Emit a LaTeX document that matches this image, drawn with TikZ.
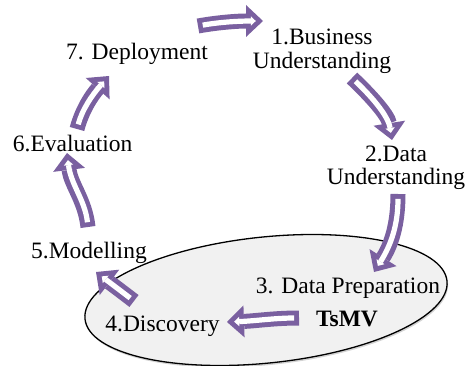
\documentclass[tikz,border=0pt]{standalone}
\usepackage{fontspec}
\setmainfont{Liberation Serif}
\usetikzlibrary{arrows.meta,shapes.geometric,shadows}
\definecolor{arrowpurple}{RGB}{122,96,160}
\definecolor{ellipsefill}{RGB}{241,241,241}
\tikzset{
  lbl/.style={font=\fontsize{23.5}{23.5}\selectfont, inner sep=0pt, anchor=base, align=center},
  hollowouter/.style={draw=arrowpurple, line width=15pt,
    -{Triangle[length=17pt,width=32pt,line width=0pt]}},
  hollowinner/.style={draw=white, line width=5.2pt, shorten >=7.2pt, shorten <=4.8pt,
    -{Triangle[length=5pt,width=9.4pt,line width=0pt]}},
}
\newcommand{\hollowarrow}[3]{%
  \draw[hollowouter] (#1) .. controls #3 .. (#2);
  \draw[hollowinner] (#1) .. controls #3 .. (#2);
}
\begin{document}
\begin{tikzpicture}[x=1pt,y=-1pt]
\useasboundingbox (0,0) rectangle (471,366);
% ellipse
\node[ellipse, draw=black, line width=1.3pt, fill=ellipsefill,
  minimum width=364pt, minimum height=126pt, inner sep=0pt, rotate=6,
  drop shadow={shadow xshift=1pt, shadow yshift=-2pt, opacity=0.35}] (oval) at (266,300) {};
% labels (multi-line nodes: base = last line)
\node[lbl] (bu) at (322,68.3) {1.Business\\Understanding};
\node[lbl] (du) at (396,185) {2.Data\\Understanding};
\node[lbl] (dp) at (348,293) {3. Data Preparation};
\node[lbl, font=\fontsize{23.5}{23.5}\selectfont\bfseries] (ts) at (347,326.7) {TsMV};
\node[lbl] (di) at (162.5,331.7) {4.Discovery};
\node[lbl] (mo) at (89,258) {5.Modelling};
\node[lbl] (ev) at (72.7,151.7) {6.Evaluation};
\node[lbl] (de) at (137,60) {7. Deployment};
% arrow end points
\coordinate (a1s) at (198,26); \coordinate (a1e) at (263,21);
\coordinate (a2s) at (352,78); \coordinate (a2e) at (392,140);
\coordinate (a3s) at (398,194); \coordinate (a3e) at (374,272);
\coordinate (a4s) at (299,318); \coordinate (a4e) at (227,322);
\coordinate (a5s) at (134,301); \coordinate (a5e) at (96,272);
\coordinate (a6s) at (88,227); \coordinate (a6e) at (67,153);
\coordinate (a7s) at (77,129); \coordinate (a7e) at (109,76);
\hollowarrow{a1s}{a1e}{(220,22) and (240,21)}
\hollowarrow{a2s}{a2e}{(370,95) and (388,115)}
\hollowarrow{a3s}{a3e}{(398,225) and (391,245)}
\hollowarrow{a4s}{a4e}{(275,318) and (255,321)}
\hollowarrow{a5s}{a5e}{(121,291) and (109,282)}
\hollowarrow{a6s}{a6e}{(85,200) and (71,185)}
\hollowarrow{a7s}{a7e}{(82,110) and (92,95)}
\end{tikzpicture}
\end{document}
